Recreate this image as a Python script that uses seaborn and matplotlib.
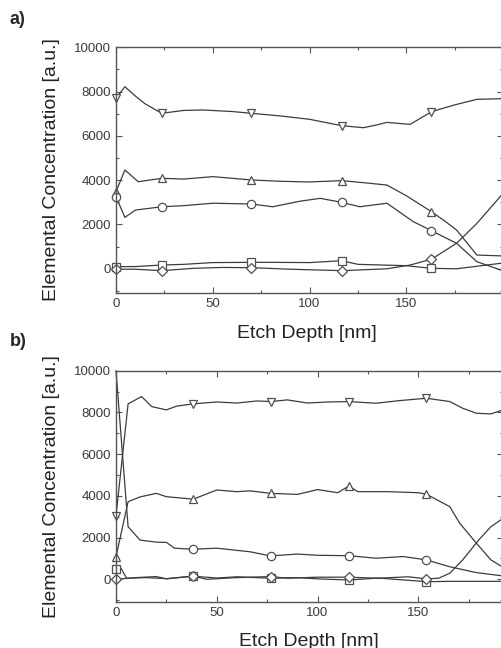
import seaborn as sns
import matplotlib.pyplot as plt
from matplotlib.ticker import MultipleLocator

# panel a) depth profiles
a_down_x = [0, 4.6, 10, 15, 23.6, 35, 45, 60, 70, 85, 100, 116.7, 127.8, 135, 140, 152, 163, 175, 186.5, 200]
a_down_y = [7700, 8220, 7800, 7450, 7020, 7150, 7170, 7100, 7020, 6900, 6750, 6460, 6370, 6500, 6610, 6520, 7090, 7400, 7650, 7680]
a_down_m = [0, 4, 8, 11, 16]

a_up_x = [0, 4.6, 11.5, 23.6, 35, 50, 70, 85, 100, 116.7, 130, 140, 150, 163, 170, 176, 186.5, 200]
a_up_y = [3480, 4460, 3930, 4085, 4050, 4160, 4010, 3950, 3920, 3980, 3870, 3780, 3300, 2580, 2150, 1750, 620, 580]
a_up_m = [0, 3, 6, 9, 13]

a_circ_x = [0, 4.6, 10, 23.6, 35, 50, 70, 81, 95, 105.5, 116.7, 126, 140, 153.6, 163, 176, 186.5, 200]
a_circ_y = [3250, 2320, 2650, 2800, 2850, 2960, 2925, 2800, 3050, 3180, 3000, 2800, 2960, 2130, 1720, 1150, 320, -90]
a_circ_m = [0, 3, 6, 10, 14]

a_sq_x = [0, 10, 23.6, 35, 50, 70, 81, 100, 116.7, 125, 150, 163, 176, 200]
a_sq_y = [95, 100, 170, 200, 280, 290, 290, 280, 365, 200, 140, 20, 0, 260]
a_sq_m = [0, 2, 5, 8, 11]

a_dia_x = [0, 10, 23.6, 40, 55, 70, 90, 116.7, 140, 152, 163, 176, 186.5, 200]
a_dia_y = [-20, -20, -85, 20, 60, 50, -20, -85, 0, 170, 430, 1150, 2050, 3400]
a_dia_m = [0, 2, 5, 7, 10]

# panel b) depth profiles
b_down_x = [0, 6, 12.7, 17.7, 25, 30, 38.3, 50, 60, 70, 76.7, 85, 95, 105, 115.5, 129, 140, 154, 165.6, 172, 178.8, 186, 192]
b_down_y = [3040, 8410, 8760, 8280, 8120, 8300, 8410, 8500, 8450, 8550, 8520, 8600, 8450, 8500, 8520, 8440, 8560, 8680, 8520, 8200, 7960, 7930, 8120]
b_down_m = [0, 6, 10, 14, 17]

b_up_x = [0, 6, 12, 20, 25, 38.3, 50, 60, 66.4, 76.7, 90, 100, 110, 115.5, 120, 135, 150, 154, 165.6, 170.5, 178.8, 186, 192]
b_up_y = [1080, 3720, 3950, 4120, 3960, 3840, 4280, 4200, 4240, 4120, 4070, 4300, 4150, 4470, 4200, 4200, 4150, 4080, 3480, 2690, 1730, 930, 575]
b_up_m = [0, 5, 9, 13, 17]

b_circ_x = [0, 6, 11.9, 20, 25, 29, 38.3, 50, 66.4, 76.7, 90, 100, 115.5, 129, 142.5, 154, 165.6, 178.8, 192]
b_circ_y = [10000, 2520, 1880, 1780, 1770, 1490, 1440, 1490, 1320, 1120, 1210, 1150, 1130, 1010, 1090, 930, 600, 320, 160]
b_circ_m = [6, 9, 12, 15]

b_sq_x = [0, 2, 5.3, 15, 25, 38.3, 50, 60, 76.7, 90, 100, 115.5, 130, 154, 165.6, 192]
b_sq_y = [500, 600, 50, 80, 30, 150, 60, 120, 50, 80, 20, -35, 60, -115, -100, -100]
b_sq_m = [0, 5, 8, 11, 13]

b_dia_x = [0, 10, 20, 25, 38.3, 45, 60, 76.7, 85, 100, 115.5, 130, 145, 154, 160, 165.6, 172, 180, 186, 192]
b_dia_y = [0, 80, 130, 20, 150, 0, 80, 130, 50, 100, 100, 50, 120, 20, 50, 290, 930, 1890, 2520, 2920]
b_dia_m = [0, 4, 7, 10, 13]

x_major = [0, 50, 100, 150]

sns.set_style("ticks")
plt.rcParams['font.family'] = ['Liberation Sans', 'DejaVu Sans']

fig = plt.figure(figsize=(5.01, 6.48), dpi=100)
ax_a = fig.add_axes([116 / 501, 1 - 292.7 / 648, 387 / 501, 245.4 / 648])
ax_b = fig.add_axes([116 / 501, 1 - 601.7 / 648, 387 / 501, 231 / 648])

line_c = "#3c3c3c"


def profile(ax, xs, ys, marks, mk):
    size = 5 if mk == "D" else 6
    sns.lineplot(x=xs, y=ys, ax=ax, sort=False, estimator=None, color=line_c, lw=0.9,
                 marker=mk, markevery=marks, markersize=size, markerfacecolor="white",
                 markeredgecolor="#505050", markeredgewidth=0.9, clip_on=False)


series_a = [(a_down_x, a_down_y, a_down_m, "v"), (a_up_x, a_up_y, a_up_m, "^"),
            (a_circ_x, a_circ_y, a_circ_m, "o"), (a_sq_x, a_sq_y, a_sq_m, "s"),
            (a_dia_x, a_dia_y, a_dia_m, "D")]
series_b = [(b_down_x, b_down_y, b_down_m, "v"), (b_up_x, b_up_y, b_up_m, "^"),
            (b_circ_x, b_circ_y, b_circ_m, "o"), (b_sq_x, b_sq_y, b_sq_m, "s"),
            (b_dia_x, b_dia_y, b_dia_m, "D")]

for ax, series, xmax, ybot in [(ax_a, series_a, 200, -1080), (ax_b, series_b, 192, -1075)]:
    for xs, ys, marks, mk in series:
        profile(ax, xs, ys, marks, mk)
    ax.set_xlim(0, xmax)
    ax.set_ylim(ybot, 10000)
    ax.set_xticks(x_major)
    ax.xaxis.set_minor_locator(MultipleLocator(25))
    ax.yaxis.set_major_locator(MultipleLocator(2000))
    ax.yaxis.set_minor_locator(MultipleLocator(1000))
    ax.tick_params(which="both", direction="in", top=True, right=True, color="#555555",
                   labelsize=9.5, labelcolor="#3a3a3a")
    ax.tick_params(which="major", length=4, width=0.8)
    ax.tick_params(which="minor", length=2.5, width=0.8)
    for sp in ax.spines.values():
        sp.set_color("#555555")
        sp.set_linewidth(1.0)
    ax.set_xlabel("Etch Depth [nm]", fontsize=14, color="#222222")
    ax.set_ylabel("Elemental Concentration [a.u.]", fontsize=14, color="#222222")
    ax.yaxis.label.set_va("center")

ax_a.yaxis.set_label_coords(-(116 - 52) / 387, 0.5)
ax_b.yaxis.set_label_coords(-(116 - 52) / 387, 0.5)
ax_a.xaxis.set_label_coords((307 - 116) / 387, -(333 - 292.7) / 245.4)
ax_b.xaxis.set_label_coords((309 - 116) / 387, -(641 - 601.7) / 231)
ax_a.xaxis.label.set_va("center")
ax_b.xaxis.label.set_va("center")

fig.text(10 / 501, 1 - 20 / 648, "a)", fontsize=13, fontweight="bold", va="center", ha="left")
fig.text(10 / 501, 1 - 342 / 648, "b)", fontsize=13, fontweight="bold", va="center", ha="left")

fig.savefig("out.png", dpi=100)
